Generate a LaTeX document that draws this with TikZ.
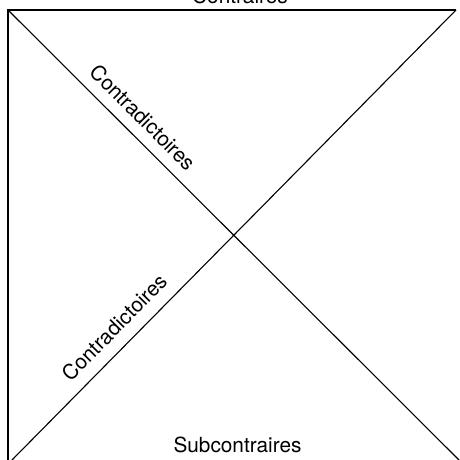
\documentclass[tikz,border=0pt]{standalone}
\usepackage{fontspec}
\setmainfont{TeX Gyre Heros}

\begin{document}
\begin{tikzpicture}[x=1pt,y=-1pt,font=\fontsize{20.8}{24}\selectfont,
  frame/.style={line width=2pt},
  diag/.style={line width=1.1pt},
  lbl/.style={inner sep=0pt}]
  \useasboundingbox (0,0) rectangle (459,460);
  % corners of the square
  \coordinate (tl) at (8,10);
  \coordinate (tr) at (456,10);
  \coordinate (bl) at (8,460);
  \coordinate (bld) at (12,460);
  \coordinate (brd) at (459,460);
  \draw[frame] (bl) -- (tl) -- (tr);
  % diagonals
  \draw[diag] (tl) -- node[lbl,pos=.269,sloped,above=11pt] (cdu) {Contradictoires} (brd);
  \draw[diag] (bld) -- node[lbl,pos=.263,sloped,above=12pt] (cdl) {Contradictoires} (tr);
  \node[lbl,anchor=base] (ctr) at (240,3.5) {Contraires};
  \node[lbl,anchor=base] (sub) at (237.5,452.7) {Subcontraires};
\end{tikzpicture}
\end{document}
